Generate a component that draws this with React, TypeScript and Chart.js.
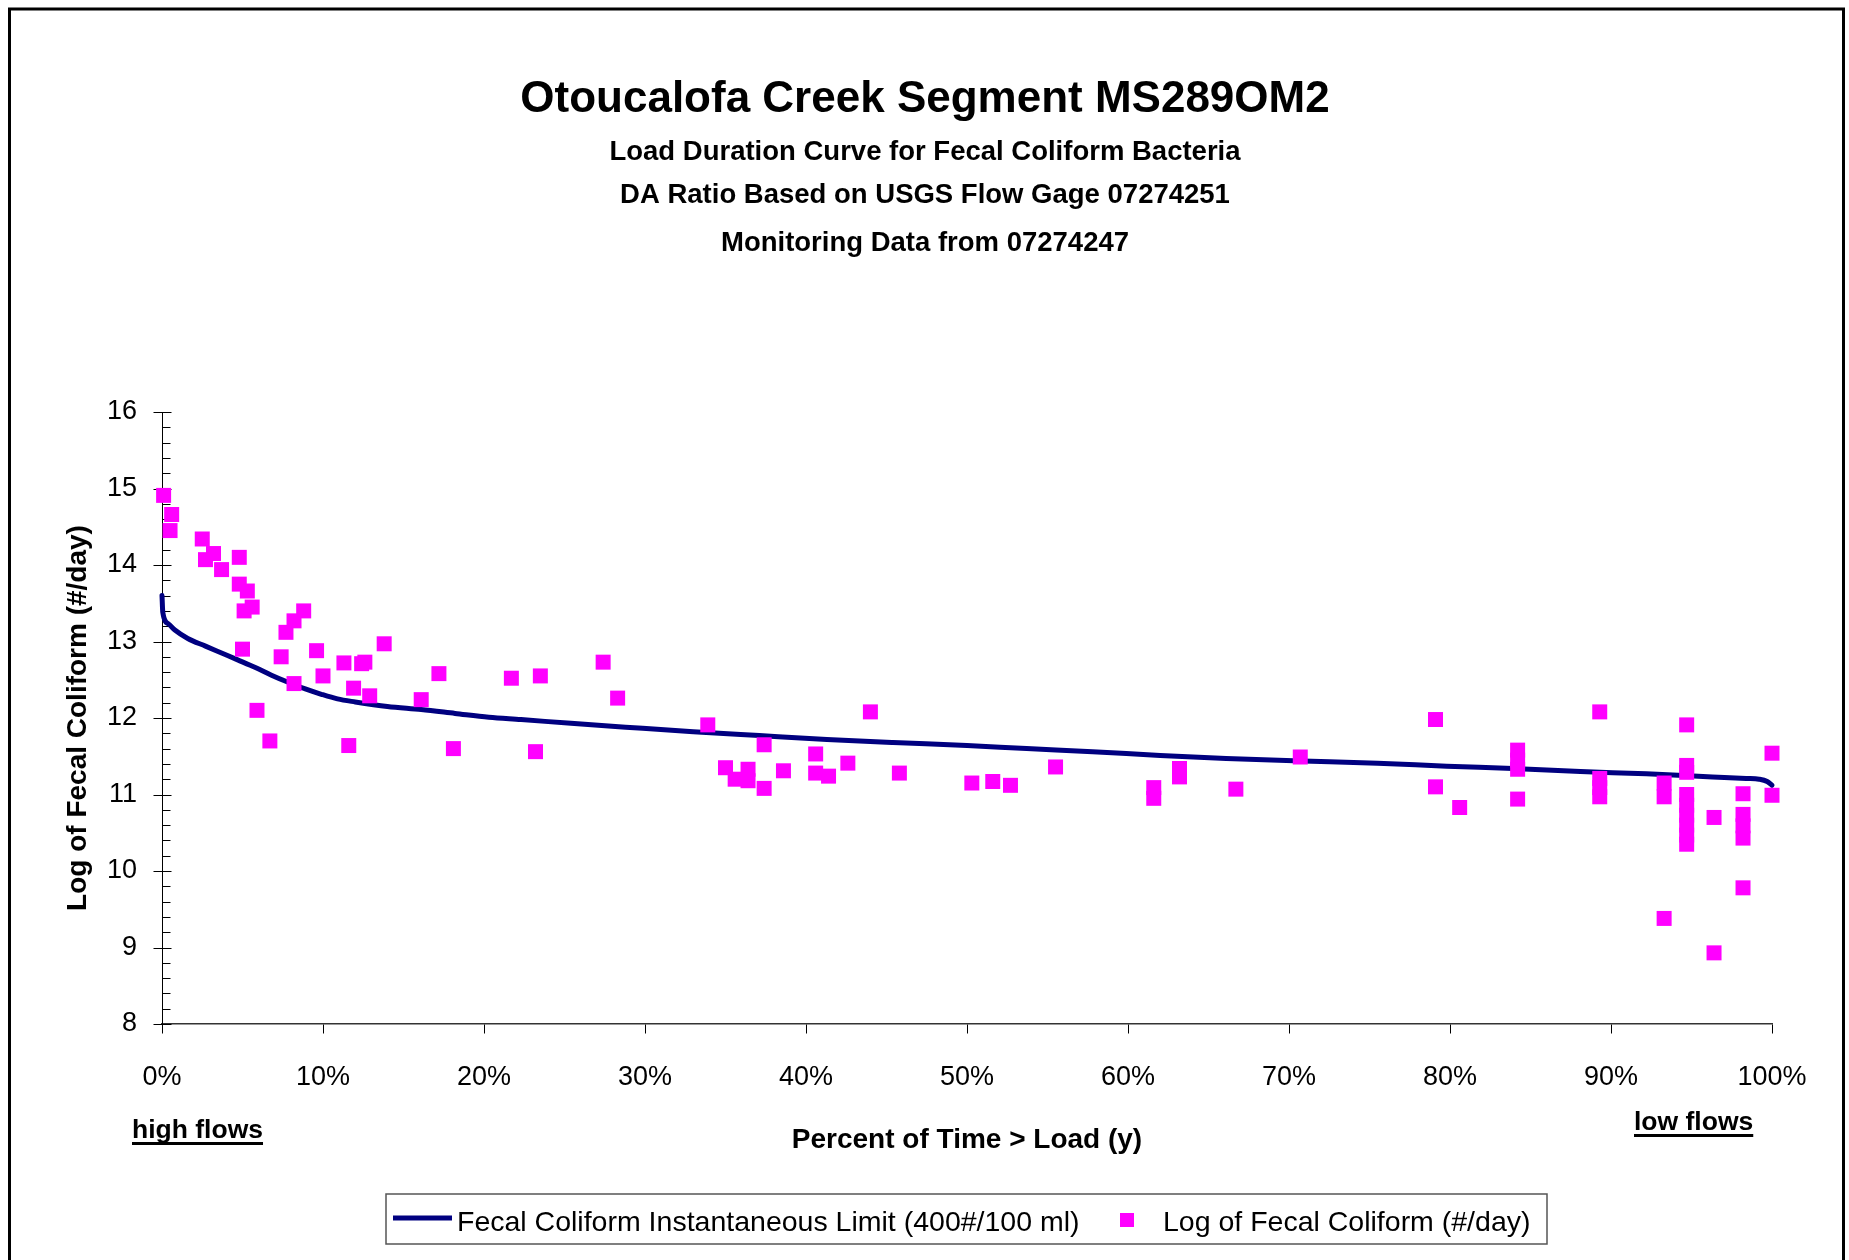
import React, { useEffect, useRef } from "react";
import { Chart, registerables } from "chart.js";

Chart.register(...registerables);

const FONT = '"Liberation Sans", Arial, sans-serif';

const TITLE = "Otoucalofa Creek Segment MS289OM2";
const SUBTITLES = [
  "Load Duration Curve for Fecal Coliform Bacteria",
  "DA Ratio Based on USGS Flow Gage 07274251",
  "Monitoring Data from 07274247",
];
const X_TITLE = "Percent of Time > Load (y)";
const Y_TITLE = "Log of Fecal Coliform (#/day)";
const LINE_LABEL = "Fecal Coliform Instantaneous Limit (400#/100 ml)";
const POINT_LABEL = "Log of Fecal Coliform (#/day)";
const HIGH_FLOWS = "high flows";
const LOW_FLOWS = "low flows";

const X_TICKS = [0, 10, 20, 30, 40, 50, 60, 70, 80, 90, 100];
const Y_MIN = 8;
const Y_MAX = 16;

// Limit curve (percent of time, log load)
const curveX = [
  0, 0.05, 0.4, 0.8, 1.6, 2.7, 3.7, 4.7, 5.8, 6.8, 7.8, 8.9, 9.9, 10.9, 12.0,
  14.0, 16.1, 18.2, 20.3, 22.3, 25.4, 28.8, 33.0, 37.1, 41.3, 45.4, 50.0, 53.7,
  57.8, 62.0, 66.1, 70.3, 75.5, 79.8, 83.9, 88.1, 92.2, 96.3, 98.4, 99.2, 99.7,
  100,
];
const curveY = [
  13.6, 13.38, 13.23, 13.15, 13.04, 12.94, 12.85, 12.76, 12.66, 12.56, 12.47,
  12.38, 12.31, 12.25, 12.21, 12.15, 12.11, 12.06, 12.01, 11.98, 11.93, 11.88,
  11.82, 11.77, 11.72, 11.68, 11.64, 11.6, 11.56, 11.51, 11.47, 11.44, 11.41,
  11.37, 11.34, 11.3, 11.27, 11.23, 11.21, 11.2, 11.17, 11.12,
];

// Observed loads
const obsX = [
  0.1, 0.6, 0.5, 2.5, 3.2, 2.7, 3.7, 4.8, 4.8, 5.3, 5.6, 5.1, 8.8, 8.2, 7.7,
  5.0, 7.4, 9.6, 11.3, 12.4, 12.6, 13.8, 10.0, 8.2, 11.9, 12.9, 17.2, 16.1,
  21.7, 23.5, 5.9, 6.7, 11.6, 18.1, 23.2, 27.4, 28.3, 33.9, 37.4, 44.0, 35.0,
  35.6, 36.4, 36.4, 37.4, 38.6, 40.6, 40.6, 41.4, 42.6, 45.8, 50.3, 51.6, 52.7,
  55.5, 61.6, 61.6, 63.2, 63.2, 66.7, 70.7, 79.1, 79.1, 80.6, 84.2, 84.2, 84.2,
  84.2, 89.3, 89.3, 89.3, 89.3, 93.3, 93.3, 93.3, 94.7, 94.7, 94.7, 94.7, 94.7,
  94.7, 94.7, 94.7, 94.7, 96.4, 96.4, 98.2, 98.2, 98.2, 98.2, 98.2, 100, 100,
];
const obsY = [
  14.91, 14.66, 14.45, 14.34, 14.15, 14.07, 13.94, 14.1, 13.75, 13.66, 13.45,
  13.4, 13.4, 13.27, 13.12, 12.9, 12.8, 12.88, 12.72, 12.71, 12.73, 12.97,
  12.55, 12.45, 12.39, 12.29, 12.58, 12.24, 12.52, 12.55, 12.1, 11.7, 11.64,
  11.6, 11.56, 12.73, 12.26, 11.91, 11.65, 12.08, 11.35, 11.2, 11.33, 11.18,
  11.08, 11.31, 11.53, 11.28, 11.24, 11.41, 11.28, 11.15, 11.17, 11.12, 11.36,
  11.09, 10.95, 11.34, 11.23, 11.07, 11.49, 11.98, 11.1, 10.83, 11.58, 11.45,
  11.33, 10.94, 12.08, 11.21, 11.09, 10.97, 11.15, 10.97, 9.38, 11.91, 11.38,
  11.29, 11.0, 10.86, 10.73, 10.6, 10.47, 10.35, 10.7, 8.93, 11.01, 10.74,
  10.59, 10.43, 9.78, 11.54, 10.99,
];

const LINE_COLOR = "#000080";
const POINT_COLOR = "#FF00FF";

const decor = {
  id: "decor",
  beforeDatasetsDraw(chart: any) {
    const { ctx, chartArea, scales } = chart;
    const ys = scales.y;
    const xs = scales.x;
    const left = Math.round(chartArea.left) + 0.5;
    const bottom = Math.round(chartArea.bottom) + 0.5;
    ctx.save();
    ctx.strokeStyle = "#000";
    ctx.lineWidth = 1;
    ctx.beginPath();
    const steps = Math.round((Y_MAX - Y_MIN) / 0.2);
    for (let i = 0; i <= steps; i++) {
      const v = Y_MIN + i * 0.2;
      const py = Math.round(ys.getPixelForValue(v)) + 0.5;
      if (i % 5 === 0) {
        ctx.moveTo(left - 9, py);
        ctx.lineTo(left + 9, py);
      } else {
        ctx.moveTo(left, py);
        ctx.lineTo(left + 8, py);
      }
    }
    for (const t of X_TICKS) {
      const px = Math.round(xs.getPixelForValue(t)) + 0.5;
      ctx.moveTo(px, bottom);
      ctx.lineTo(px, bottom + 9);
    }
    ctx.stroke();
    ctx.restore();
  },
  afterDraw(chart: any) {
    const { ctx } = chart;
    ctx.save();
    // outer frame
    ctx.strokeStyle = "#000";
    ctx.lineWidth = 3;
    ctx.strokeRect(9.5, 9, 1834, 1400);

    // titles
    ctx.fillStyle = "#000";
    ctx.textAlign = "center";
    ctx.textBaseline = "alphabetic";
    ctx.font = `bold 44px ${FONT}`;
    ctx.fillText(TITLE, 925, 112);
    ctx.font = `bold 27.5px ${FONT}`;
    const subBase = [160, 202.5, 251];
    SUBTITLES.forEach((s, i) => ctx.fillText(s, 925, subBase[i]));

    // high / low flows
    ctx.textAlign = "left";
    ctx.font = `bold 26.5px ${FONT}`;
    ctx.fillText(HIGH_FLOWS, 132, 1137.5);
    const hw = ctx.measureText(HIGH_FLOWS).width;
    ctx.fillRect(132, 1142, hw, 3);
    ctx.fillText(LOW_FLOWS, 1634, 1129.5);
    const lw = ctx.measureText(LOW_FLOWS).width;
    ctx.fillRect(1634, 1134, lw, 3);

    // legend
    ctx.strokeStyle = "#555";
    ctx.lineWidth = 1.5;
    ctx.strokeRect(386, 1194, 1161, 50);
    ctx.strokeStyle = LINE_COLOR;
    ctx.lineWidth = 5;
    ctx.beginPath();
    ctx.moveTo(393, 1218);
    ctx.lineTo(452, 1218);
    ctx.stroke();
    ctx.fillStyle = "#000";
    ctx.font = `28.5px ${FONT}`;
    ctx.fillText(LINE_LABEL, 457, 1230.5);
    ctx.fillStyle = POINT_COLOR;
    ctx.fillRect(1120, 1213, 14, 14);
    ctx.fillStyle = "#000";
    ctx.fillText(POINT_LABEL, 1163, 1230.5);
    ctx.restore();
  },
};

export default function App() {
  const ref = useRef<HTMLCanvasElement | null>(null);

  useEffect(() => {
    const canvas = ref.current;
    if (!canvas) return;
    const chart = new Chart(canvas, {
      type: "scatter",
      data: {
        datasets: [
          {
            type: "line",
            label: LINE_LABEL,
            data: curveX.map((x, i) => ({ x, y: curveY[i] })),
            borderColor: LINE_COLOR,
            backgroundColor: LINE_COLOR,
            borderWidth: 5,
            borderCapStyle: "round",
            borderJoinStyle: "round",
            pointRadius: 0,
            cubicInterpolationMode: "monotone",
            fill: false,
            clip: false,
            order: 2,
          } as any,
          {
            type: "scatter",
            label: POINT_LABEL,
            data: obsX.map((x, i) => ({ x, y: obsY[i] })),
            pointStyle: "rect",
            pointRadius: 10.6,
            backgroundColor: POINT_COLOR,
            borderColor: POINT_COLOR,
            borderWidth: 0,
            clip: false,
            order: 1,
          } as any,
        ],
      },
      options: {
        responsive: false,
        animation: false,
        devicePixelRatio: 1,
        layout: { padding: { top: 412, left: 0, right: 77, bottom: 0 } },
        plugins: {
          legend: { display: false },
          title: { display: false },
          tooltip: { enabled: false },
        },
        scales: {
          x: {
            type: "linear",
            min: 0,
            max: 100,
            position: "bottom",
            afterBuildTicks: (s: any) => {
              s.ticks = X_TICKS.map((v) => ({ value: v }));
            },
            ticks: {
              callback: (v: any) => `${v}%`,
              padding: 37.5,
              font: { family: FONT, size: 27 },
              color: "#000",
              maxRotation: 0,
              autoSkip: false,
            },
            grid: { display: false, drawTicks: false },
            border: { display: true, color: "#333", width: 1.5 },
            title: {
              display: true,
              text: X_TITLE,
              color: "#000",
              font: { family: FONT, size: 28, weight: "bold" },
              padding: { top: 0, bottom: 102.5 },
            },
            afterFit: (s: any) => {
              s.height = 236;
            },
          },
          y: {
            type: "linear",
            min: Y_MIN,
            max: Y_MAX,
            ticks: {
              stepSize: 1,
              padding: 25,
              font: { family: FONT, size: 27 },
              color: "#000",
            },
            grid: { display: false, drawTicks: false },
            border: { display: true, color: "#000", width: 1 },
            title: {
              display: true,
              text: Y_TITLE,
              color: "#000",
              font: { family: FONT, size: 28, weight: "bold" },
              padding: { top: 61.7, bottom: 0 },
            },
            afterFit: (s: any) => {
              s.width = 162;
            },
          },
        },
      } as any,
      plugins: [decor],
    });
    return () => chart.destroy();
  }, []);

  return (
    <div
      style={{
        position: "fixed",
        left: 0,
        top: 0,
        width: 1849,
        height: 1260,
        background: "#fff",
      }}
    >
      <canvas
        ref={ref}
        width={1849}
        height={1260}
        style={{ display: "block", width: 1849, height: 1260 }}
      />
    </div>
  );
}
